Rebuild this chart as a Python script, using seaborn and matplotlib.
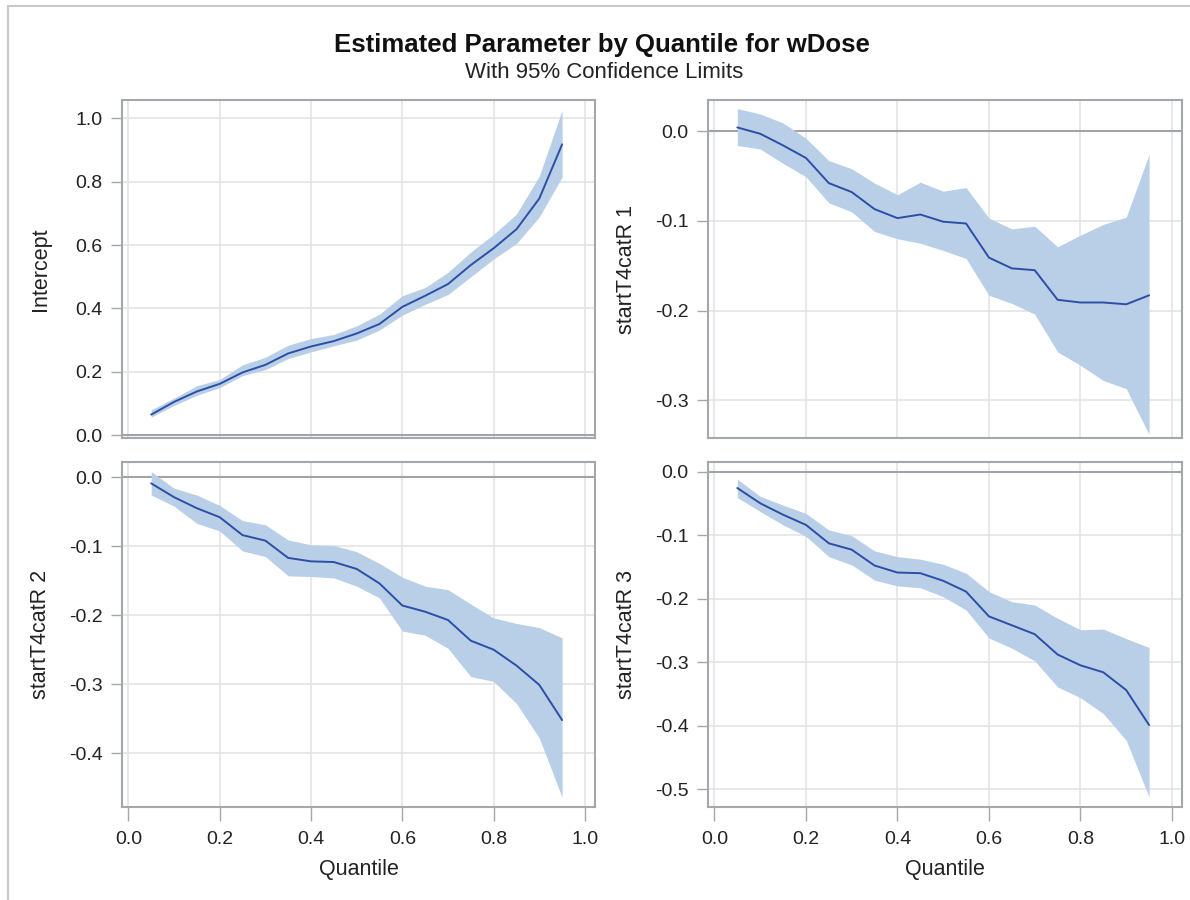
import numpy as np
import pandas as pd
import matplotlib
matplotlib.use("Agg")
import matplotlib.pyplot as plt
import seaborn as sns

quantiles = [0.05, 0.10, 0.15, 0.20, 0.25, 0.30, 0.35, 0.40, 0.45, 0.50,
             0.55, 0.60, 0.65, 0.70, 0.75, 0.80, 0.85, 0.90, 0.95]

intercept_est = [0.065, 0.105, 0.138, 0.162, 0.198, 0.222, 0.258, 0.280, 0.297, 0.321,
                 0.351, 0.405, 0.440, 0.477, 0.537, 0.590, 0.650, 0.747, 0.918]
intercept_lo = [0.057, 0.094, 0.126, 0.150, 0.188, 0.207, 0.242, 0.263, 0.282, 0.300,
                0.332, 0.379, 0.413, 0.444, 0.500, 0.556, 0.605, 0.689, 0.815]
intercept_hi = [0.080, 0.117, 0.156, 0.176, 0.222, 0.246, 0.284, 0.305, 0.318, 0.345,
                0.382, 0.440, 0.466, 0.514, 0.578, 0.634, 0.698, 0.818, 1.026]

cat1_est = [0.004, -0.003, -0.016, -0.030, -0.058, -0.068, -0.087, -0.097, -0.093, -0.101,
            -0.103, -0.141, -0.153, -0.155, -0.188, -0.191, -0.191, -0.193, -0.183]
cat1_lo = [-0.016, -0.020, -0.036, -0.051, -0.080, -0.090, -0.112, -0.120, -0.125, -0.133,
           -0.142, -0.183, -0.192, -0.204, -0.246, -0.261, -0.278, -0.287, -0.338]
cat1_hi = [0.025, 0.019, 0.009, -0.008, -0.033, -0.042, -0.058, -0.071, -0.057, -0.067,
           -0.063, -0.097, -0.109, -0.106, -0.129, -0.116, -0.104, -0.096, -0.026]

cat2_est = [-0.009, -0.029, -0.045, -0.058, -0.084, -0.092, -0.117, -0.122, -0.123, -0.133,
            -0.154, -0.186, -0.195, -0.207, -0.237, -0.250, -0.273, -0.301, -0.352]
cat2_lo = [-0.026, -0.042, -0.067, -0.078, -0.107, -0.115, -0.143, -0.144, -0.146, -0.158,
           -0.175, -0.223, -0.229, -0.248, -0.289, -0.296, -0.328, -0.378, -0.464]
cat2_hi = [0.008, -0.016, -0.026, -0.041, -0.063, -0.069, -0.091, -0.098, -0.099, -0.108,
           -0.125, -0.145, -0.158, -0.163, -0.184, -0.204, -0.212, -0.218, -0.233]

cat3_est = [-0.026, -0.050, -0.068, -0.084, -0.113, -0.123, -0.148, -0.159, -0.160, -0.172,
            -0.189, -0.228, -0.242, -0.256, -0.288, -0.305, -0.316, -0.344, -0.399]
cat3_lo = [-0.041, -0.063, -0.084, -0.102, -0.134, -0.147, -0.171, -0.180, -0.183, -0.197,
           -0.218, -0.262, -0.278, -0.298, -0.339, -0.356, -0.381, -0.423, -0.512]
cat3_hi = [-0.012, -0.039, -0.053, -0.066, -0.092, -0.101, -0.125, -0.134, -0.138, -0.146,
           -0.160, -0.189, -0.205, -0.210, -0.231, -0.249, -0.248, -0.263, -0.277]

panel_names = ["Intercept", "startT4catR 1", "startT4catR 2", "startT4catR 3"]
x_ticks = [0.0, 0.2, 0.4, 0.6, 0.8, 1.0]

sns.set_style("white")
plt.rcParams["font.family"] = ["Liberation Sans", "DejaVu Sans"]

band_col = "#B9CEE7"
line_col = "#2C4FA6"
frame_col = "#A4A8AC"
grid_col = "#E4E4E4"
text_col = "#222222"

fig = plt.figure(figsize=(11.9, 9.0), dpi=100)

# panel boxes in figure fractions (left, bottom, width, height)
boxes = [
    (0.1025, 0.5133, 0.3975, 0.3756),
    (0.5950, 0.5133, 0.3983, 0.3756),
    (0.1025, 0.1033, 0.3975, 0.3834),
    (0.5950, 0.1033, 0.3983, 0.3834),
]
ylims = [(-0.009, 1.058), (-0.342, 0.0346), (-0.478, 0.022), (-0.528, 0.015)]
yticks = [
    [0.0, 0.2, 0.4, 0.6, 0.8, 1.0],
    [-0.3, -0.2, -0.1, 0.0],
    [-0.4, -0.3, -0.2, -0.1, 0.0],
    [-0.5, -0.4, -0.3, -0.2, -0.1, 0.0],
]
series = [
    (intercept_est, intercept_lo, intercept_hi),
    (cat1_est, cat1_lo, cat1_hi),
    (cat2_est, cat2_lo, cat2_hi),
    (cat3_est, cat3_lo, cat3_hi),
]

for i in range(4):
    ax = fig.add_axes(boxes[i])
    est, lo, hi = series[i]
    df = pd.DataFrame({"Quantile": quantiles, "Estimate": est})
    ax.grid(True, color=grid_col, linewidth=1.2)
    ax.set_axisbelow(True)
    ax.axhline(0, color="#A0A4A8", linewidth=1.5, zorder=1)
    ax.fill_between(quantiles, lo, hi, color=band_col, linewidth=0, zorder=2)
    sns.lineplot(data=df, x="Quantile", y="Estimate", ax=ax, color=line_col,
                 linewidth=1.4, zorder=3)
    ax.set_xlim(-0.014, 1.022)
    ax.set_ylim(*ylims[i])
    ax.set_xticks(x_ticks)
    ax.set_yticks(yticks[i])
    ax.set_yticklabels([f"{v:.1f}" for v in yticks[i]])
    for s in ax.spines.values():
        s.set_color(frame_col)
        s.set_linewidth(1.5)
    ax.tick_params(axis="y", left=True, direction="out", length=8, width=1,
                   color=frame_col, labelsize=14, pad=6, labelcolor=text_col)
    ax.set_ylabel(panel_names[i], fontsize=15.5, color=text_col)
    ax.yaxis.set_label_coords(-0.149, 0.5)
    if i < 2:
        ax.tick_params(axis="x", bottom=False, labelbottom=False)
        ax.set_xlabel("")
    else:
        ax.tick_params(axis="x", bottom=True, direction="out", length=10, width=1,
                       color=frame_col, labelsize=14, pad=7, labelcolor=text_col)
        ax.set_xticklabels([f"{v:.1f}" for v in x_ticks])
        ax.set_xlabel("Quantile", fontsize=15.5, color=text_col, labelpad=8)

fig.text(0.506, 0.950, "Estimated Parameter by Quantile for wDose", ha="center",
         va="center", fontsize=18.5, fontweight="bold", color="#111111")
fig.text(0.508, 0.920, "With 95% Confidence Limits", ha="center", va="center",
         fontsize=16, color=text_col)

# outer frame of the graph image
fig.add_artist(plt.Line2D([0.0067, 0.0067], [0.0, 0.9933], transform=fig.transFigure,
                          color="#C8C8C8", linewidth=1.5))
fig.add_artist(plt.Line2D([0.0067, 1.0], [0.9933, 0.9933], transform=fig.transFigure,
                          color="#C8C8C8", linewidth=1.5))

fig.savefig("out.png", dpi=100)
